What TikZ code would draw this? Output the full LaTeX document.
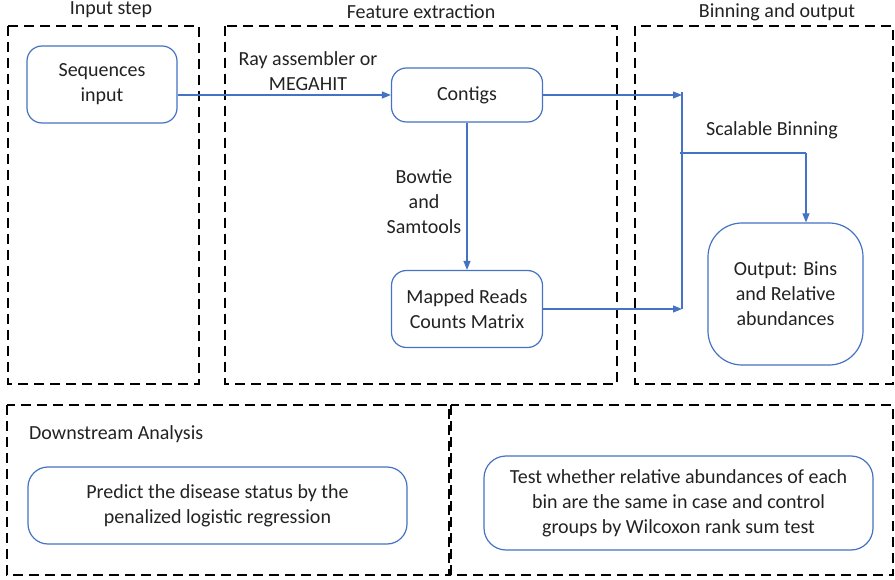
\documentclass[tikz,border=0pt]{standalone}
\usepackage{fontspec}
\setmainfont{Carlito}
\usetikzlibrary{arrows.meta}
\definecolor{flowblue}{HTML}{4472C4}
\definecolor{txt}{HTML}{222222}
\tikzset{
  panel/.style={draw=black, line width=2.8pt, dash pattern=on 10pt off 6pt},
  rbox/.style={draw=flowblue, line width=1.2pt, rounded corners=15pt, align=center,
               text=txt, inner sep=0pt},
  link/.style={draw=flowblue, line width=1.1pt},
  arr/.style={link, -{Triangle[length=9pt,width=7pt]}},
  lbl/.style={text=txt, align=center, inner sep=0pt},
}
\begin{document}
\begin{tikzpicture}[x=1pt, y=-1pt, font=\fontsize{20}{25}\selectfont]
\useasboundingbox (0,0) rectangle (895,580);

% dashed stage panels
\draw[panel] (8,26) rectangle (199,384);
\draw[panel] (225,26) rectangle (617,384);
\draw[panel] (635,26) rectangle (893,384);
\draw[panel] (7,405) rectangle (449,575);
\draw[panel] (451,405) rectangle (893,575);

% stage titles
\node[lbl] (t1) at (111,10) {Input step};
\node[lbl] (t2) at (421,12) {Feature extraction};
\node[lbl] (t3) at (777,12) {Binning and output};
\node[lbl, anchor=west] (t4) at (29,434) {Downstream Analysis};

% process boxes
\node[rbox, minimum width=150pt, minimum height=77pt] (seq) at (102,84.5) {Sequences\\input};
\node[rbox, minimum width=151pt, minimum height=54pt] (contigs) at (467,95) {Contigs};
\node[rbox, minimum width=151pt, minimum height=77pt] (mapped) at (467,309) {Mapped Reads\\Counts Matrix};
\node[rbox, rounded corners=34pt, minimum width=155pt, minimum height=142pt] (out) at (785.5,294) {Output: Bins\\and Relative\\abundances};
\node[rbox, rounded corners=20pt, minimum width=379pt, minimum height=77pt] (pred) at (217.5,505.5) {Predict the disease status by the\\penalized logistic regression};
\node[rbox, rounded corners=22pt, minimum width=389pt, minimum height=94pt] (test) at (678.5,503) {Test whether relative abundances of each\\bin are the same in case and control\\groups by Wilcoxon rank sum test};

% connector labels
\node[lbl] (l1) at (308,71) {Ray assembler or\\MEGAHIT};
\node[lbl] (l2) at (424,202) {Bowtie\\and\\Samtools};
\node[lbl] (l3) at (772,130) {Scalable Binning};

% junction points of the binning bus
\coordinate (barTop) at (682,92);
\coordinate (barBot) at (682,309.5);
\coordinate (split) at (680,153);
\coordinate (turn) at (806,153);

% connectors
\draw[arr] (seq.east |- contigs.west) -- (contigs.west);
\draw[arr] (contigs.south) -- (mapped.north);
\draw[arr] (contigs.east) -- (contigs.east -| barTop);
\draw[arr] (mapped.east) -- (mapped.east -| barTop);
\draw[link] (barTop) -- (barBot);
\draw[link] (split) -- (turn);
\draw[arr] (turn) -- (turn |- out.north);
\end{tikzpicture}
\end{document}
